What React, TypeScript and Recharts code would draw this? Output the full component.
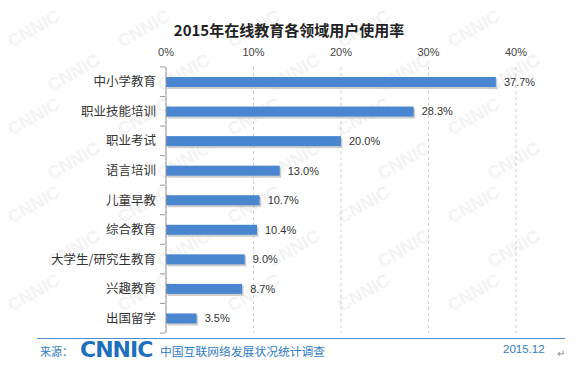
import { BarChart, Bar, XAxis, YAxis, CartesianGrid, LabelList } from 'recharts';

const categories = ['中小学教育', '职业技能培训', '职业考试', '语言培训', '儿童早教', '综合教育', '大学生/研究生教育', '兴趣教育', '出国留学'];
const usageRate = [37.7, 28.3, 20.0, 13.0, 10.7, 10.4, 9.0, 8.7, 3.5];
const xTicks = [0, 10, 20, 30, 40];

const data = categories.map((name, i) => ({ name, value: usageRate[i] }));

const CJK = '"Noto Sans CJK SC", "Noto Sans", sans-serif';
const LATIN = '"Liberation Sans", Arial, sans-serif';
const BLUE = '#4a86d0';
const FOOT_BLUE = '#2f7cc4';

function ShadowBar(props: any) {
  const { x, y, width, height } = props;
  if (!width || width <= 0) return null;
  return (
    <g>
      <rect x={x + 1.5} y={y + 2} width={width} height={height} fill="#b8b8b8" opacity={0.7} />
      <rect x={x} y={y} width={width} height={height} fill={BLUE} />
    </g>
  );
}

function CategoryTick(props: any) {
  const { x, y, payload, index } = props;
  const half = 14.8;
  return (
    <g>
      <line x1={x + 9} x2={x + 14} y1={y - half} y2={y - half} stroke="#999" />
      {index === categories.length - 1 && (
        <line x1={x + 9} x2={x + 14} y1={y + half} y2={y + half} stroke="#999" />
      )}
      <text x={x + 5} y={y} dy={4.5} textAnchor="end" fontFamily={CJK} fontSize={12.5} fill="#333">
        {payload.value}
      </text>
    </g>
  );
}

function PercentTick(props: any) {
  const { x, y, payload } = props;
  return (
    <text x={x} y={y} dy={-3} textAnchor="middle" fontFamily={LATIN} fontSize={11} fill="#444">
      {payload.value}%
    </text>
  );
}

// faint diagonal "CNNIC" watermark, kept inside the frame
function Watermarks() {
  const marks = [];
  for (let r = 0; r < 7; r++) {
    for (let c = 0; c < 5; c++) {
      const x = 12 + c * 110 + (r % 2) * 40;
      const y = 48 + r * 44;
      if (x > 500) continue;
      marks.push(
        <text key={`${r}-${c}`} x={x} y={y} transform={`rotate(-30 ${x} ${y})`}
          fontFamily={LATIN} fontWeight="bold" fontSize={18} fill="#f3f3f3">
          CNNIC
        </text>
      );
    }
  }
  return <svg width={580} height={366} style={{ position: 'absolute', left: 0, top: 0 }}>{marks}</svg>;
}

export default function App() {
  return (
    <div style={{ position: 'absolute', left: 0, top: 0, width: 580, height: 366, background: '#fff', overflow: 'hidden' }}>
      <Watermarks />
      <div style={{ position: 'absolute', left: 0, top: 19, width: 578, textAlign: 'center', fontFamily: CJK, fontWeight: 'bold', fontSize: 15, color: '#222' }}>
        2015年在线教育各领域用户使用率
      </div>
      <div style={{ position: 'absolute', left: 0, top: 0 }}>
        <BarChart width={580} height={366} data={data} layout="vertical"
          margin={{ top: 37, right: 64, bottom: 33, left: 0 }}>
          <CartesianGrid horizontal={false} strokeDasharray="3 3" stroke="#d0d0d0" />
          <XAxis type="number" orientation="top" domain={[0, 40]} ticks={xTicks} height={30}
            axisLine={false} tickLine={false} tick={<PercentTick />} />
          <YAxis type="category" dataKey="name" width={166} axisLine={{ stroke: '#999' }}
            tickLine={false} tick={<CategoryTick />} tickMargin={9} interval={0} />
          <Bar dataKey="value" barSize={10} shape={<ShadowBar />} isAnimationActive={false}>
            <LabelList dataKey="value" position="right" offset={8}
              formatter={(v: any) => `${Number(v).toFixed(1)}%`}
              style={{ fontFamily: LATIN, fontSize: 11, fill: '#333' }} />
          </Bar>
        </BarChart>
      </div>
      <div style={{ position: 'absolute', left: 37, top: 338, width: 528, height: 1, background: '#4f8fd0' }} />
      <div style={{ position: 'absolute', left: 40, top: 343, fontFamily: CJK, fontSize: 11, color: FOOT_BLUE }}>来源：</div>
      <div style={{ position: 'absolute', left: 80, top: 337, fontFamily: '"DejaVu Sans", sans-serif', fontWeight: 'bold', fontSize: 22, color: '#1f6fbf', letterSpacing: -1 }}>CNNIC</div>
      <div style={{ position: 'absolute', left: 160, top: 342, fontFamily: CJK, fontSize: 11.8, color: FOOT_BLUE }}>中国互联网络发展状况统计调查</div>
      <div style={{ position: 'absolute', left: 503, top: 343, fontFamily: LATIN, fontSize: 11.5, color: FOOT_BLUE }}>2015.12</div>
      <div style={{ position: 'absolute', left: 557, top: 348, fontFamily: LATIN, fontSize: 10, color: '#888' }}>↵</div>
    </div>
  );
}
